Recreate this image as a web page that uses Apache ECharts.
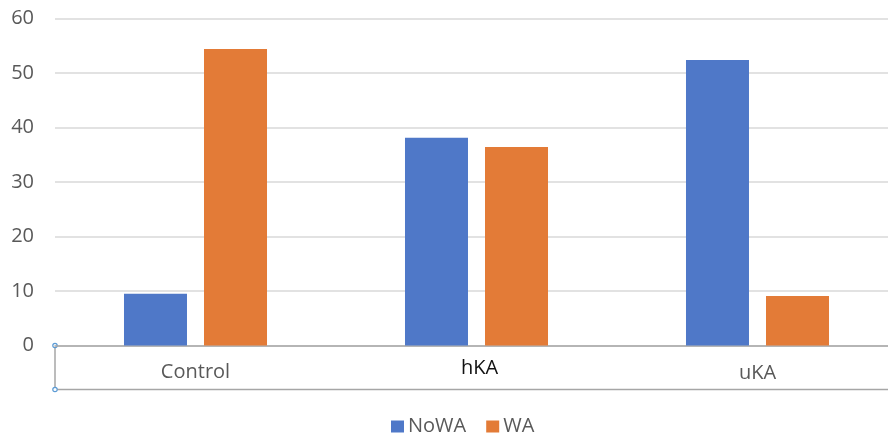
<!DOCTYPE html>
<html>
<head>
<meta charset="utf-8">
<style>
  html, body { margin: 0; padding: 0; background: #ffffff; }
  #chart { width: 888px; height: 438px; }
</style>
<script src="https://cdn.jsdelivr.net/npm/echarts@6/dist/echarts.min.js"></script>
</head>
<body>
<div id="chart"></div>
<script>
// Groups along the x axis
const categories = ['Control', 'hKA', 'uKA'];
// Series values per group
const noWA = [9.5, 38.1, 52.4];
const wa = [54.4, 36.4, 9.1];
// Value axis ticks
const yTicks = [0, 10, 20, 30, 40, 50, 60];

const BLUE = '#4f78c8';
const ORANGE = '#e37b37';
const TEXT = '#595959';
const FONT = '"Open Sans", "Liberation Sans", sans-serif';

const chart = echarts.init(document.getElementById('chart'), null, { renderer: 'canvas' });

// Per-category label styles (the middle label sits a little higher and darker)
const labelStyle = {
  c0: { fontSize: 20, color: TEXT, fontFamily: FONT, padding: [5, 0, 0, 0] },
  c1: { fontSize: 20, color: '#111111', fontFamily: FONT, padding: [1, 0, 0, 6] },
  c2: { fontSize: 20, color: TEXT, fontFamily: FONT, padding: [6, 0, 0, 0] }
};

chart.setOption({
  backgroundColor: '#ffffff',
  animation: false,
  textStyle: { fontFamily: FONT },
  grid: {
    left: 55, width: 843, top: 18.5, bottom: 92.5,
    containLabel: false, outerBoundsMode: 'none'
  },
  legend: {
    data: ['NoWA', 'WA'],
    left: 391,
    top: 416.5,
    padding: 0,
    itemWidth: 13,
    itemHeight: 12,
    itemGap: 20,
    icon: 'rect',
    textStyle: { fontSize: 20, color: TEXT, fontFamily: FONT, padding: [0, 0, 0, -1] }
  },
  xAxis: {
    type: 'category',
    data: categories,
    axisLine: { show: true, lineStyle: { color: '#a6a6a6', width: 1.5 } },
    axisTick: { show: false },
    axisLabel: {
      margin: 12,
      formatter: function (v, i) {
        return '{c' + i + '|' + v + '}';
      },
      rich: labelStyle
    }
  },
  yAxis: {
    type: 'value',
    min: yTicks[0],
    max: yTicks[yTicks.length - 1],
    interval: 10,
    axisLine: { show: false },
    axisTick: { show: false },
    axisLabel: { fontSize: 20, color: TEXT, fontFamily: FONT, margin: 21 },
    splitLine: { lineStyle: { color: '#d9d9d9', width: 1.5 } }
  },
  series: [
    {
      name: 'NoWA',
      type: 'bar',
      data: noWA,
      barWidth: 63,
      barGap: '27%',
      itemStyle: { color: BLUE }
    },
    {
      name: 'WA',
      type: 'bar',
      data: wa,
      barWidth: 63,
      itemStyle: { color: ORANGE }
    }
  ]
});

// Frame drawn below the category axis (label box with selection handles)
function drawFrame() {
  const grid = chart.getModel().getComponent('grid').coordinateSystem.getRect();
  const x0 = grid.x;
  const y0 = grid.y + grid.height;
  const y1 = y0 + 44;
  const w = chart.getWidth();
  chart.setOption({
    graphic: [
      { type: 'line', shape: { x1: x0, y1: y0, x2: x0, y2: y1 }, style: { stroke: '#a6a6a6', lineWidth: 1.5 } },
      { type: 'line', shape: { x1: x0, y1: y1, x2: w, y2: y1 }, style: { stroke: '#a6a6a6', lineWidth: 1.5 } },
      { type: 'circle', shape: { cx: x0, cy: y0, r: 2.2 }, style: { fill: '#ffffff', stroke: '#5b9bd5', lineWidth: 1.2 } },
      { type: 'circle', shape: { cx: x0, cy: y1, r: 2.2 }, style: { fill: '#ffffff', stroke: '#5b9bd5', lineWidth: 1.2 } }
    ]
  });
}
drawFrame();
</script>
</body>
</html>
